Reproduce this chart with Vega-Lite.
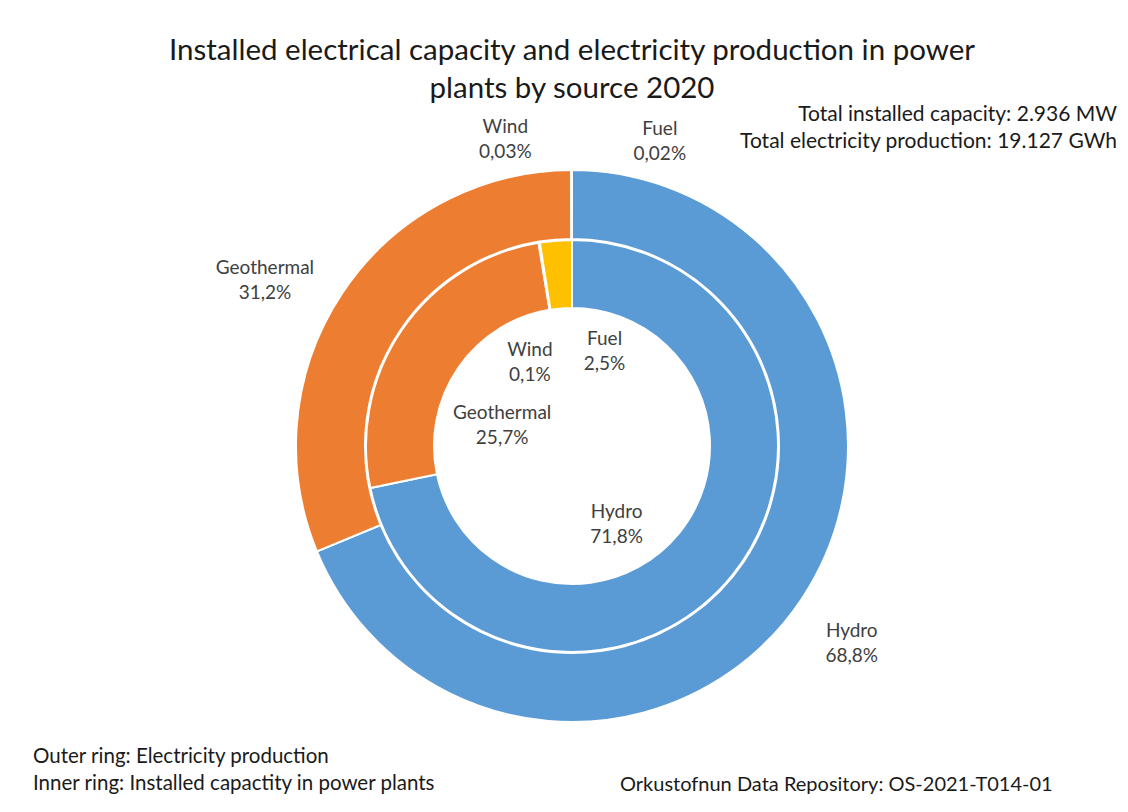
{
  "$schema": "https://vega.github.io/schema/vega-lite/v6.json",
  "width": 1112,
  "height": 652,
  "autosize": {"type": "none"},
  "padding": {"left": 16, "top": 120, "right": 0, "bottom": 40},
  "background": "white",
  "config": {"view": {"stroke": null}, "font": "Lato", "text": {"font": "Lato"}},
  "title": {
    "text": ["Installed electrical capacity and electricity production in power", "plants by source 2020"],
    "fontSize": 29.5,
    "font": "Lato",
    "fontWeight": "normal",
    "color": "#1a1a1a",
    "anchor": "middle",
    "frame": "group",
    "lineHeight": 38,
    "offset": -19
  },
  "data": {
    "values": [
      {"ring": "Production", "source": "Hydro", "k": 1, "pct": 68.8, "label": "Hydro\n68,8%"},
      {"ring": "Production", "source": "Geothermal", "k": 2, "pct": 31.2, "label": "Geothermal\n31,2%"},
      {"ring": "Production", "source": "Wind", "k": 3, "pct": 0.03, "label": "Wind\n0,03%"},
      {"ring": "Production", "source": "Fuel", "k": 4, "pct": 0.02, "label": "Fuel\n0,02%"},
      {"ring": "Capacity", "source": "Hydro", "k": 1, "pct": 71.8, "label": "Hydro\n71,8%"},
      {"ring": "Capacity", "source": "Geothermal", "k": 2, "pct": 25.7, "label": "Geothermal\n25,7%"},
      {"ring": "Capacity", "source": "Wind", "k": 3, "pct": 0.1, "label": "Wind\n0,1%"},
      {"ring": "Capacity", "source": "Fuel", "k": 4, "pct": 2.5, "label": "Fuel\n2,5%"}
    ]
  },
  "resolve": {"scale": {"theta": "independent"}},
  "layer": [
    {
      "transform": [{"filter": "datum.ring === 'Production'"}],
      "mark": {"type": "arc", "radius": 276, "radius2": 207, "stroke": "white", "strokeWidth": 2},
      "encoding": {
        "theta": {"field": "pct", "type": "quantitative", "stack": true},
        "order": {"field": "k", "type": "quantitative"},
        "color": {"field": "source", "type": "nominal", "legend": null,
          "scale": {"domain": ["Hydro", "Geothermal", "Wind", "Fuel"], "range": ["#5B9BD5", "#ED7D31", "#A5A5A5", "#FFC000"]}}
      }
    },
    {
      "transform": [{"filter": "datum.ring === 'Capacity'"}],
      "mark": {"type": "arc", "radius": 206, "radius2": 138, "stroke": "white", "strokeWidth": 2},
      "encoding": {
        "theta": {"field": "pct", "type": "quantitative", "stack": true},
        "order": {"field": "k", "type": "quantitative"},
        "color": {"field": "source", "type": "nominal", "legend": null,
          "scale": {"domain": ["Hydro", "Geothermal", "Wind", "Fuel"], "range": ["#5B9BD5", "#ED7D31", "#A5A5A5", "#FFC000"]}}
      }
    },
    {
      "transform": [{"filter": "datum.ring === 'Production'"}],
      "mark": {"type": "text", "radius": 345, "dx": -7, "dy": -7, "fontSize": 19, "color": "#404040", "lineBreak": "\n", "lineHeight": 25, "align": "center", "baseline": "middle"},
      "encoding": {
        "theta": {"field": "pct", "type": "quantitative", "stack": true},
        "order": {"field": "k", "type": "quantitative"},
        "detail": {"field": "source", "type": "nominal"},
        "text": {"condition": {"test": "datum.source === 'Hydro'", "field": "label"}, "value": ""}
      }
    },
    {
      "transform": [{"filter": "datum.ring === 'Production'"}],
      "mark": {"type": "text", "radius": 345, "dx": -20, "dy": 13, "fontSize": 19, "color": "#404040", "lineBreak": "\n", "lineHeight": 25, "align": "center", "baseline": "middle"},
      "encoding": {
        "theta": {"field": "pct", "type": "quantitative", "stack": true},
        "order": {"field": "k", "type": "quantitative"},
        "detail": {"field": "source", "type": "nominal"},
        "text": {"condition": {"test": "datum.source === 'Geothermal'", "field": "label"}, "value": ""}
      }
    },
    {
      "transform": [{"filter": "datum.ring === 'Production'"}],
      "mark": {"type": "text", "radius": 306, "dx": -66, "dy": -13, "fontSize": 19, "color": "#404040", "lineBreak": "\n", "lineHeight": 25, "align": "center", "baseline": "middle"},
      "encoding": {
        "theta": {"field": "pct", "type": "quantitative", "stack": true},
        "order": {"field": "k", "type": "quantitative"},
        "detail": {"field": "source", "type": "nominal"},
        "text": {"condition": {"test": "datum.source === 'Wind'", "field": "label"}, "value": ""}
      }
    },
    {
      "transform": [{"filter": "datum.ring === 'Production'"}],
      "mark": {"type": "text", "radius": 306, "dx": 88, "dy": -11, "fontSize": 19, "color": "#404040", "lineBreak": "\n", "lineHeight": 25, "align": "center", "baseline": "middle"},
      "encoding": {
        "theta": {"field": "pct", "type": "quantitative", "stack": true},
        "order": {"field": "k", "type": "quantitative"},
        "detail": {"field": "source", "type": "nominal"},
        "text": {"condition": {"test": "datum.source === 'Fuel'", "field": "label"}, "value": ""}
      }
    },
    {
      "transform": [{"filter": "datum.ring === 'Capacity'"}],
      "mark": {"type": "text", "radius": 100, "dx": -33, "dy": 3, "fontSize": 19, "color": "#404040", "lineBreak": "\n", "lineHeight": 25, "align": "center", "baseline": "middle"},
      "encoding": {
        "theta": {"field": "pct", "type": "quantitative", "stack": true},
        "order": {"field": "k", "type": "quantitative"},
        "detail": {"field": "source", "type": "nominal"},
        "text": {"condition": {"test": "datum.source === 'Hydro'", "field": "label"}, "value": ""}
      }
    },
    {
      "transform": [{"filter": "datum.ring === 'Capacity'"}],
      "mark": {"type": "text", "radius": 75, "dx": -8, "dy": 9, "fontSize": 19, "color": "#404040", "lineBreak": "\n", "lineHeight": 25, "align": "center", "baseline": "middle"},
      "encoding": {
        "theta": {"field": "pct", "type": "quantitative", "stack": true},
        "order": {"field": "k", "type": "quantitative"},
        "detail": {"field": "source", "type": "nominal"},
        "text": {"condition": {"test": "datum.source === 'Geothermal'", "field": "label"}, "value": ""}
      }
    },
    {
      "transform": [{"filter": "datum.ring === 'Capacity'"}],
      "mark": {"type": "text", "radius": 95, "dx": -27, "dy": -2, "fontSize": 19, "color": "#404040", "lineBreak": "\n", "lineHeight": 25, "align": "center", "baseline": "middle"},
      "encoding": {
        "theta": {"field": "pct", "type": "quantitative", "stack": true},
        "order": {"field": "k", "type": "quantitative"},
        "detail": {"field": "source", "type": "nominal"},
        "text": {"condition": {"test": "datum.source === 'Wind'", "field": "label"}, "value": ""}
      }
    },
    {
      "transform": [{"filter": "datum.ring === 'Capacity'"}],
      "mark": {"type": "text", "radius": 95, "dx": 40, "dy": -12, "fontSize": 19, "color": "#404040", "lineBreak": "\n", "lineHeight": 25, "align": "center", "baseline": "middle"},
      "encoding": {
        "theta": {"field": "pct", "type": "quantitative", "stack": true},
        "order": {"field": "k", "type": "quantitative"},
        "detail": {"field": "source", "type": "nominal"},
        "text": {"condition": {"test": "datum.source === 'Fuel'", "field": "label"}, "value": ""}
      }
    },
    {
      "data": {"values": [{"note": "Total installed capacity: 2.936 MW\nTotal electricity production: 19.127 GWh"}]},
      "mark": {"type": "text", "x": {"expr": "width - 11"}, "y": -5, "align": "right", "baseline": "middle", "fontSize": 21, "color": "#1a1a1a", "lineBreak": "\n", "lineHeight": 27},
      "encoding": {"text": {"field": "note", "type": "nominal"}}
    },
    {
      "data": {"values": [{"note": "Outer ring: Electricity production\nInner ring: Installed capactity in power plants"}]},
      "mark": {"type": "text", "x": 17, "y": {"expr": "height - 15"}, "align": "left", "baseline": "middle", "fontSize": 20.5, "color": "#1a1a1a", "lineBreak": "\n", "lineHeight": 27},
      "encoding": {"text": {"field": "note", "type": "nominal"}}
    },
    {
      "data": {"values": [{"note": "Orkustofnun Data Repository: OS-2021-T014-01"}]},
      "mark": {"type": "text", "x": 604, "y": {"expr": "height + 13"}, "align": "left", "baseline": "middle", "fontSize": 20, "color": "#1a1a1a"},
      "encoding": {"text": {"field": "note", "type": "nominal"}}
    }
  ]
}
